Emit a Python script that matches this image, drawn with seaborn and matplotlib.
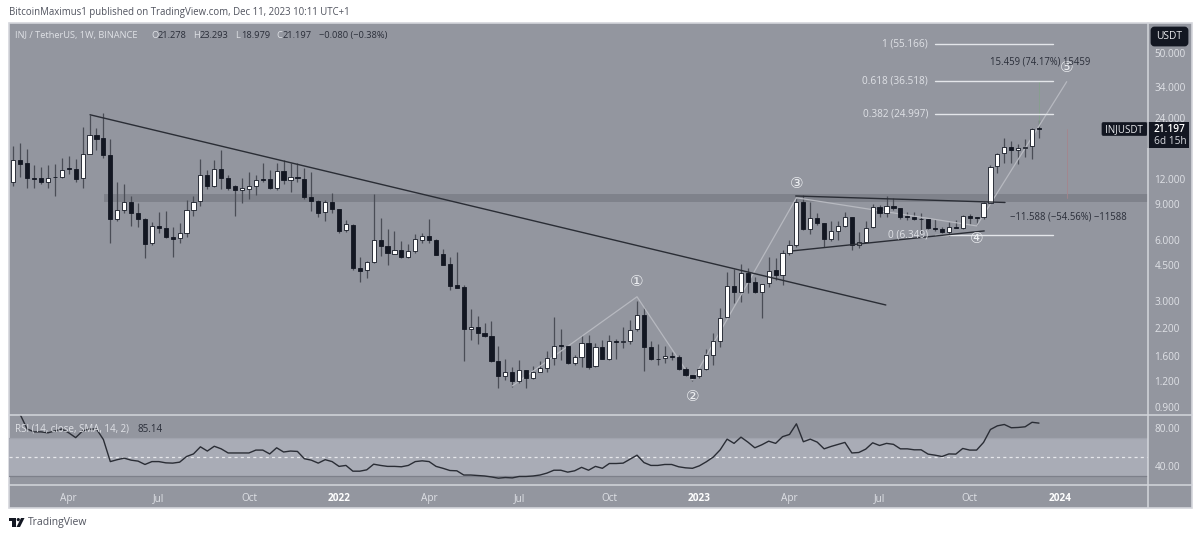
import numpy as np
import pandas as pd
import matplotlib
matplotlib.use("Agg")
import matplotlib.pyplot as plt
from matplotlib.patches import FancyBboxPatch, Rectangle, Polygon, Circle
import seaborn as sns

# ---- weekly candles (INJ / USDT) ----
opens = [11.5,14.8,14.3,12.1,12.1,11.6,12.3,12.3,13.5,13.4,12.1,15.9,19.7,19.1,15.7,7.6,8.41,9.22,8.13,7.6,
 5.79,7.02,6.86,6.19,6.12,6.48,8.41,9.33,12.5,11.0,13.4,12.1,11.0,10.56,10.7,11.0,12.0,12.0,10.8,13.1,
 11.8,12.3,12.0,9.77,9.33,8.23,9.22,8.51,6.7,7.1,4.36,4.26,4.67,5.99,5.6,5.11,5.34,4.94,5.29,5.99,
 6.26,5.99,5.11,4.56,3.59,3.51,2.18,2.23,2.09,2.0,1.51,1.28,1.34,1.20,1.37,1.25,1.34,1.40,1.57,1.82,
 1.80,1.48,1.58,1.86,1.43,1.78,1.55,1.90,1.88,1.90,2.18,2.55,1.78,1.55,1.57,1.60,1.58,1.38,1.29,1.27,
 1.38,1.62,1.90,2.5,3.55,3.32,4.12,3.72,3.32,3.67,4.26,4.02,5.17,5.66,9.22,6.78,7.68,7.22,6.05,6.63,
 7.02,7.73,5.66,5.85,6.94,8.71,8.13,8.81,8.56,7.86,7.77,7.6,7.55,6.86,6.78,6.55,6.94,6.86,7.86,7.73,
 7.77,9.12,13.9,16.1,17.2,16.6,17.0,17.4,21.278]
highs = [17.3,18.0,16.8,14.0,13.7,14.0,14.2,15.2,15.5,15.0,21.6,24.8,21.3,25.3,18.8,11.5,11.3,9.88,9.12,7.68,
 7.34,8.23,8.32,6.94,7.26,9.43,9.88,15.0,13.25,14.8,16.6,12.5,11.2,12.1,13.0,12.5,14.3,13.25,14.3,14.8,
 14.3,14.3,13.5,13.0,9.43,9.43,10.2,8.51,7.51,7.18,4.94,4.72,10.1,7.68,6.78,6.63,5.92,5.72,6.41,6.48,
 7.6,6.05,5.41,4.94,5.23,3.59,2.74,2.53,2.33,2.39,1.8,1.55,1.42,1.53,1.37,1.43,1.51,1.70,2.5,2.18,
 1.82,1.62,2.04,2.04,1.86,1.92,2.04,1.95,2.23,2.41,3.0,2.80,1.90,1.84,1.80,1.68,1.62,1.42,1.29,1.40,
 1.74,2.09,2.77,4.16,4.31,4.56,4.36,3.93,3.63,4.94,4.88,5.34,5.99,9.66,10.0,9.22,8.13,7.26,7.43,7.43,
 8.23,7.77,6.55,7.43,9.02,8.92,9.88,9.66,8.61,8.23,8.23,8.13,7.6,7.6,6.94,7.34,7.51,7.95,8.04,7.77,
 9.22,14.0,16.1,19.1,18.4,17.8,18.8,21.3,23.293]
lows = [11.0,12.3,10.8,10.8,11.3,10.8,9.88,12.1,12.7,11.6,10.8,15.8,16.6,15.2,5.79,7.43,8.13,7.02,6.94,4.88,
 5.66,6.48,6.12,4.94,5.79,6.19,7.86,8.81,10.7,10.9,10.7,10.56,7.86,9.12,9.55,10.0,11.6,10.7,10.56,11.3,
 10.3,11.5,9.55,8.32,7.77,7.43,8.13,6.48,6.55,4.26,3.72,3.89,4.61,5.0,4.51,5.08,4.88,4.88,5.17,5.79,
 5.79,5.02,4.48,3.39,3.45,1.51,1.92,1.84,1.99,1.50,1.12,1.22,1.13,1.18,1.12,1.24,1.335,1.34,1.45,1.53,
 1.47,1.45,1.42,1.38,1.42,1.54,1.53,1.55,1.76,1.84,2.14,1.35,1.53,1.45,1.48,1.53,1.37,1.28,1.21,1.25,
 1.37,1.45,1.78,2.47,2.93,2.96,3.28,3.28,2.47,3.51,3.80,3.59,5.05,5.53,6.70,6.41,7.1,5.53,5.92,5.99,
 6.94,5.34,5.47,5.82,6.86,7.77,7.77,8.41,7.6,7.51,7.51,6.48,6.78,6.63,6.48,6.26,6.82,6.78,7.18,7.1,
 7.6,9.07,12.8,14.3,14.3,14.2,15.4,15.0,18.979]
closes = [14.8,14.2,12.1,12.0,11.6,12.1,12.2,13.25,13.4,12.0,15.9,19.7,18.8,15.7,7.6,8.41,9.22,8.13,7.6,5.72,
 7.02,6.86,6.19,6.05,6.48,8.41,9.22,12.5,11.0,13.4,12.1,10.8,10.56,10.8,11.0,11.8,11.8,10.8,13.1,11.8,
 12.3,12.1,9.77,9.33,8.13,9.22,8.51,6.63,7.18,4.36,4.21,4.67,5.99,5.6,5.17,5.34,4.94,5.29,6.05,6.26,
 5.99,5.05,4.51,3.55,3.47,2.18,2.23,2.07,2.0,1.51,1.28,1.34,1.20,1.37,1.25,1.34,1.40,1.57,1.80,1.80,
 1.48,1.58,1.86,1.42,1.78,1.55,1.90,1.88,1.90,2.16,2.55,1.78,1.55,1.54,1.60,1.58,1.38,1.29,1.25,1.38,
 1.62,1.90,2.47,3.55,3.32,4.12,3.72,3.32,3.61,4.21,4.02,5.17,5.66,9.22,6.78,7.68,7.26,6.05,6.63,7.02,
 7.77,5.66,5.85,6.86,8.71,8.13,8.81,8.61,7.77,7.77,7.6,7.55,6.86,6.78,6.55,6.94,6.86,7.86,7.68,7.68,
 9.12,13.7,15.9,17.2,16.6,17.0,17.2,21.1,21.197]

# RSI(14), one value per bar
rsi = [np.nan,94,79,76,76,75,77,79,75,70,77,79,79,68,45,47,48.6,46.5,45.5,42,
 45,45,43.7,43.4,44.4,50.3,53,60.4,56,61,58.3,54,54,54,54,57,57,53,59.4,55,
 56,55.6,48,46.5,43.4,47,45,40,41,35,35,36.4,42.3,41,40,40,39.6,41,45,45.8,
 45,40,38,35.7,35.4,31,31,30.5,30,29,27.7,28.4,28,29.5,29.5,30,31,33,36,36,
 34,35.4,39,36,40,38,43,43,43.4,47.6,51.7,44,41,41,42,42,39.6,38.5,38,40.6,
 44.8,49.7,57.3,68.4,64,70.5,65.3,59.4,62.5,66.3,64,71,73.3,84.4,65.7,68.4,65.3,58.3,60.8,62.9,
 65,54,54.5,58,64.6,61.8,64,63,58.3,58.3,57.3,57.3,52.8,51.7,50.3,53,52.8,58.7,57,57,
 65,78.5,82.3,83.7,80.3,80.6,81.3,86,85.14]

# axis ticks
time_tick_bars = [8,21,34,47,60,73,86,99,112,125,138,151]
time_tick_labels = ["Apr","Jul","Oct","2022","Apr","Jul","Oct","2023","Apr","Jul","Oct","2024"]
price_ticks = [50,34,24,12,9,6,4.5,3,2.2,1.6,1.2,0.9]
rsi_ticks = [80,40]

# drawings
trend_main_bars, trend_main_prices = [11.07,125.9], [24.8,2.86]
tri_top_bars, tri_top_prices = [112.9,143.1], [9.86,9.16]
tri_bot_bars, tri_bot_prices = [112.5,140.1], [5.29,6.63]
wave_bars = [72,90,98,113,139,152]
wave_prices = [1.14,3.14,1.22,9.66,7.02,36.1]
wave_label_bars = [90,98,113,139,152]
wave_label_prices = [3.72,1.01,11.3,6.05,42.5]
wave_labels = ["①","②","③","④","⑤"]
fib_levels = [55.166,36.518,24.997,6.349]
fib_labels = ["1 (55.166)","0.618 (36.518)","0.382 (24.997)","0 (6.349)"]
fib_bars = [133,150]
zone_prices = [9.16,10.08]

GRAY="#93969f"; LIGHT="#a9acb6"; FRAME="#d4d6dc"; DARK="#131722"; WICK="#4a4d56"; TXT="#dfe1e6"; INK="#2a2e39"

sns.set_theme(style="white")
plt.rcParams["font.family"] = ["Open Sans","DejaVu Sans"]
W,H = 1200,537
fig = plt.figure(figsize=(W/100,H/100),dpi=100,facecolor="white")

def rect(l,t,r,b):
    return [l/W,1-b/H,(r-l)/W,(b-t)/H]

bg = fig.add_axes([0,0,1,1],zorder=0); bg.set_xlim(0,W); bg.set_ylim(H,0); bg.axis("off")
bg.add_patch(Rectangle((8.5,22.5),1183,485,fc=GRAY,ec=FRAME,lw=1.2))

LEFT,RIGHT = 9,1147.5
ax = fig.add_axes(rect(LEFT,23,RIGHT,415),zorder=1); ax.patch.set_alpha(0)
ar = fig.add_axes(rect(LEFT,415,RIGHT,484.7),zorder=1,sharex=ax); ar.patch.set_alpha(0)
at = fig.add_axes(rect(LEFT,484.7,RIGHT,507.3),zorder=1,sharex=ax); at.patch.set_alpha(0)

bars = np.arange(len(closes))
o,h,l,c = map(np.array,(opens,highs,lows,closes))

ax.set_yscale("log")
ax.fill_between([13.1,400],zone_prices[0],zone_prices[1],color="#7f828b",lw=0,zorder=1)
ax.vlines(bars,l,h,color=WICK,lw=0.9,zorder=2)
up = c>=o
up[[6]] = False
ax.bar(bars[up],(c-o)[up],bottom=o[up],width=0.6,color="white",edgecolor=DARK,lw=0.6,zorder=3)
ax.bar(bars[~up],np.abs(c-o)[~up],bottom=np.minimum(o,c)[~up],width=0.6,color=DARK,edgecolor=DARK,lw=0.6,zorder=3)

line_kw = dict(ax=ax,estimator=None,legend=False)
sns.lineplot(x=wave_bars,y=wave_prices,color="#b7b9c0",lw=0.9,sort=False,zorder=2.5,**line_kw)
for yy in fib_levels:
    sns.lineplot(x=fib_bars,y=[yy,yy],color="#e4e6ea",lw=1.0,zorder=2.5,**line_kw)
for xs,ys in ((trend_main_bars,trend_main_prices),(tri_top_bars,tri_top_prices),(tri_bot_bars,tri_bot_prices)):
    sns.lineplot(x=xs,y=ys,color="#2a2d35",lw=1.0,zorder=4,**line_kw)
sns.lineplot(x=[148,148],y=[21.9,36.2],color="#86a08e",lw=0.6,zorder=2,**line_kw)
sns.lineplot(x=[152,152],y=[9.66,21.0],color="#a5858c",lw=0.6,zorder=2,**line_kw)

for lab,yy in zip(fib_labels,fib_levels):
    ax.text(132,yy,lab,ha="right",va="center",color=TXT,fontsize=7.2,zorder=5)
for lab,xx,yy in zip(wave_labels,wave_label_bars,wave_label_prices):
    ax.text(xx,yy,lab,ha="center",va="center",color="#eceef1",fontsize=11,family="DejaVu Sans",zorder=5)
ax.text(148.1,45.2,"15.459 (74.17%) 15459",ha="center",va="center",color=INK,fontsize=6.85,zorder=5)
ax.text(143.8,7.77,"\u221211.588 (\u221254.56%) \u221211588",ha="left",va="center",color=INK,fontsize=6.85,zorder=5)

ax.set_xlim(-0.62,163.66)
ax.set_ylim(0.82,70.3)
ax.minorticks_off()
ax.yaxis.tick_right()
ax.set_yticks(price_ticks)
ax.set_yticklabels([f"{v:.3f}" for v in price_ticks],color=TXT,fontsize=7.2)
ax.tick_params(axis="y",length=0,pad=5)
ax.tick_params(axis="x",length=0,labelbottom=False)

# RSI pane
ar.axhspan(30,70,color=LIGHT,lw=0,zorder=1)
for yy,col,ls in ((70,"#a0a3ad","-"),(30,"#7d808a","-"),(50,"#e6e7eb",(0,(2.5,2.5)))):
    ar.axhline(yy,color=col,lw=0.9,ls=ls,zorder=2)
sns.lineplot(x=bars,y=rsi,ax=ar,color="#2a2d35",lw=1.0,estimator=None,legend=False,zorder=3)
ar.set_ylim(20.9,93.6)
ar.yaxis.tick_right()
ar.set_yticks(rsi_ticks)
ar.set_yticklabels([f"{v:.2f}" for v in rsi_ticks],color=TXT,fontsize=7.2)
ar.tick_params(axis="y",length=0,pad=5)
ar.tick_params(axis="x",length=0,labelbottom=False)
ar.set_ylabel(""); ar.set_xlabel("")
ax.set_ylabel(""); ax.set_xlabel("")

# time axis
at.set_yticks([])
at.set_xticks(time_tick_bars)
at.set_xticklabels(time_tick_labels,color=TXT,fontsize=7.2)
for t,lab in zip(at.get_xticklabels(),time_tick_labels):
    if lab.isdigit():
        t.set_fontweight("bold"); t.set_color("white")
at.tick_params(axis="x",length=0,pad=-10.5)
for a in (ax,ar,at):
    for s in a.spines.values():
        s.set_visible(False)
    a.grid(False)

# overlay: frame lines, badges and header texts
ov = fig.add_axes([0,0,1,1],zorder=5); ov.set_xlim(0,W); ov.set_ylim(H,0); ov.axis("off"); ov.patch.set_alpha(0)
ov.plot([8.5,1191.5],[415,415],color=FRAME,lw=1.1)
ov.plot([8.5,1191.5],[484.7,484.7],color=FRAME,lw=1.1)
ov.plot([1147.5,1147.5],[22.5,507.5],color=FRAME,lw=1.1)
ov.add_patch(FancyBboxPatch((1152,28),35,17,boxstyle="round,pad=0,rounding_size=2.5",fc=DARK,ec=DARK,lw=2,mutation_aspect=1))
ov.text(1169.5,36.8,"USDT",ha="center",va="center",color="#e6e7eb",fontsize=7.4)
ov.add_patch(Rectangle((1147,122),41.5,26,fc=DARK,ec="none"))
ov.text(1153.5,129.3,"21.197",ha="left",va="center",color="white",fontsize=7.3,fontweight="semibold")
ov.text(1153.5,141.3,"6d 15h",ha="left",va="center",color="#d8dae0",fontsize=7.3)
ov.add_patch(FancyBboxPatch((1102,122.5),45,13,boxstyle="round,pad=0,rounding_size=1.5",fc=DARK,ec=DARK,lw=0.5))
ov.text(1124,129.3,"INJUSDT",ha="center",va="center",color="#e6e7eb",fontsize=7.0)

ov.text(9,13,"BitcoinMaximus1 published on TradingView.com, Dec 11, 2023 10:11 UTC+1",ha="left",va="center",color="#50535e",fontsize=6.95)
LEG=[(15,"INJ / TetherUS, 1W, BINANCE",TXT),(151,"O",TXT),(158,"21.278",INK),(193,"H",TXT),(200,"23.293",INK),(235,"L",TXT),(241,"18.979",INK),(276,"C",TXT),(283,"21.197",INK),(319,"\u22120.080 (\u22120.38%)",INK)]
for xx,s,col in LEG:
    ov.text(xx,35.5,s,ha="left",va="center",color=col,fontsize=6.7)
ov.text(15,429,"RSI (14, close, SMA, 14, 2)",ha="left",va="center",color=TXT,fontsize=7.0)
ov.text(138,429,"85.14",ha="left",va="center",color=INK,fontsize=7.0)
# TradingView logo mark
ov.add_patch(Polygon([(9,518),(16,518),(16,527),(12.3,527),(12.3,521),(9,521)],fc=DARK,ec="none"))
ov.add_patch(Circle((18.3,519.6),1.6,fc=DARK,ec="none"))
ov.add_patch(Polygon([(16.5,527),(20,527),(24.5,518),(21,518)],fc=DARK,ec="none"))
ov.text(28,522,"TradingView",ha="left",va="center",color="#50535e",fontsize=7.5)

fig.savefig("out.png",dpi=100,facecolor="white")
